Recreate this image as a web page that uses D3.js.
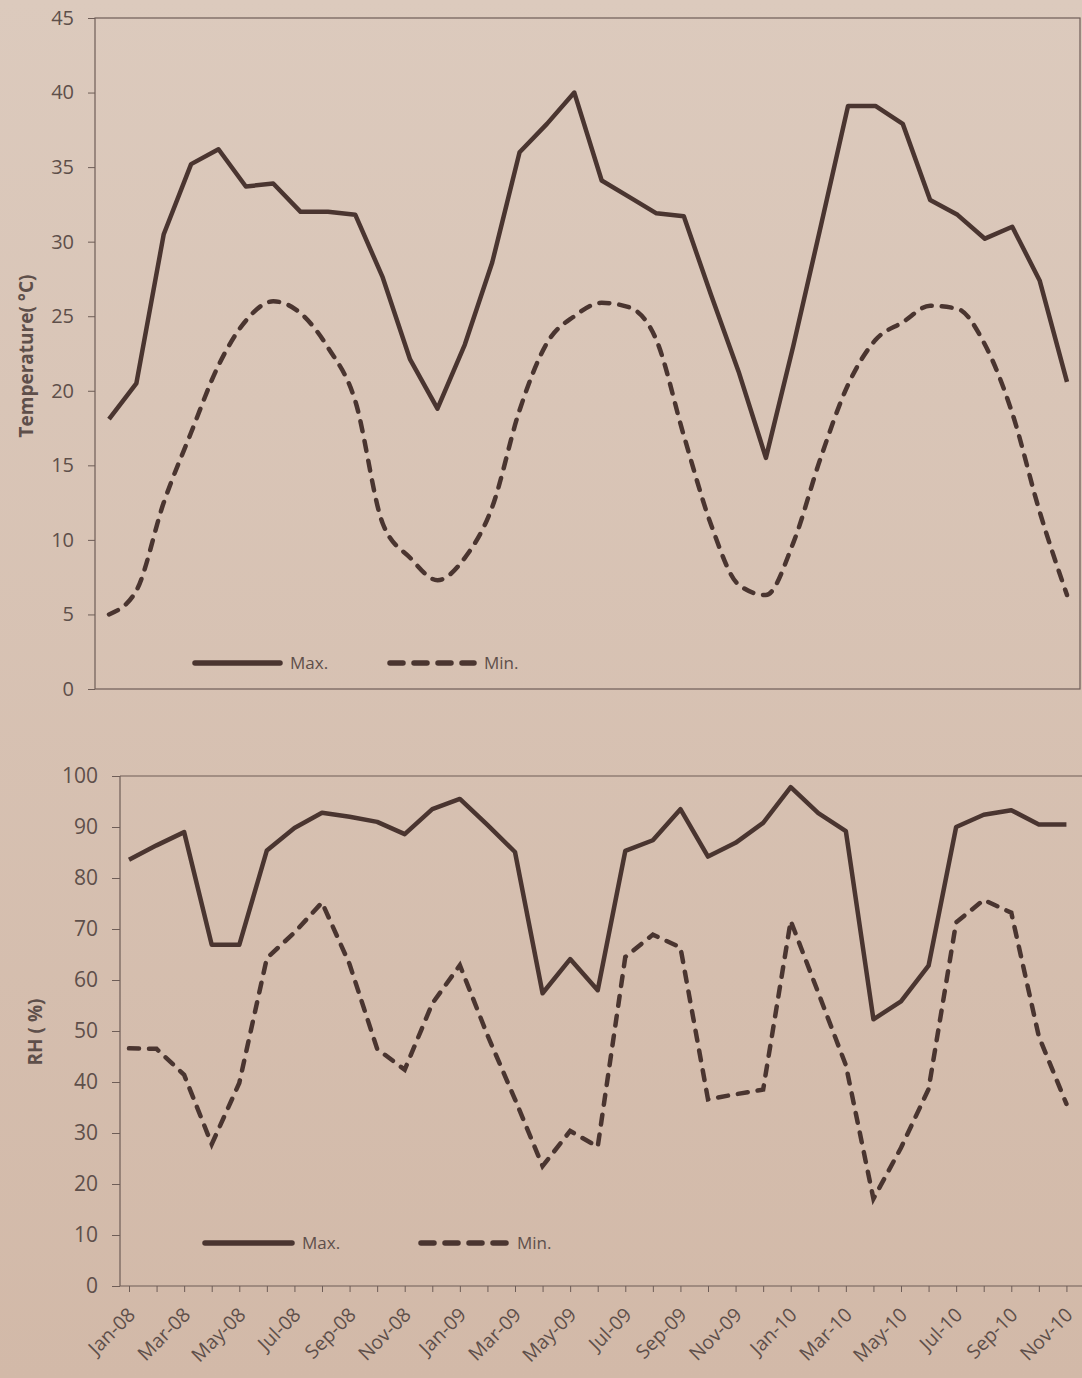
<!DOCTYPE html>
<meta charset="utf-8">
<script src="https://d3js.org/d3.v7.min.js"></script>
<style>
  body { margin: 0; background: #d8c4b5; }
  svg { display: block; font-family: 'Open Sans', sans-serif; }
</style>
<body>
<div id="my_dataviz"></div>
<script>
// months Jan-08 .. Dec-10
var months = ["Jan-08","Feb-08","Mar-08","Apr-08","May-08","Jun-08","Jul-08","Aug-08","Sep-08","Oct-08","Nov-08","Dec-08",
              "Jan-09","Feb-09","Mar-09","Apr-09","May-09","Jun-09","Jul-09","Aug-09","Sep-09","Oct-09","Nov-09","Dec-09",
              "Jan-10","Feb-10","Mar-10","Apr-10","May-10","Jun-10","Jul-10","Aug-10","Sep-10","Oct-10","Nov-10","Dec-10"];
var monthLabels = ["Jan-08","Mar-08","May-08","Jul-08","Sep-08","Nov-08","Jan-09","Mar-09","May-09","Jul-09","Sep-09","Nov-09",
                   "Jan-10","Mar-10","May-10","Jul-10","Sep-10","Nov-10"];

// temperature (°C)
var tempTicks = [0, 5, 10, 15, 20, 25, 30, 35, 40, 45];
var tempMax = [18.1, 20.5, 30.5, 35.2, 36.2, 33.7, 33.9, 32.0, 32.0, 31.8, 27.6, 22.1,
               18.8, 23.1, 28.6, 36.0, 37.9, 40.0, 34.1, 33.0, 31.9, 31.7, 26.4, 21.3,
               15.5, 23.0, 31.0, 39.1, 39.1, 37.9, 32.8, 31.8, 30.2, 31.0, 27.4, 20.6];
var tempMin = [5.0, 6.6, 12.5, 17.2, 21.7, 24.7, 26.0, 25.2, 22.9, 19.3, 11.1, 8.8,
               7.3, 8.8, 12.2, 18.7, 23.2, 25.0, 25.9, 25.6, 23.4, 17.0, 11.0, 7.0,
               6.3, 9.8, 15.5, 20.4, 23.4, 24.6, 25.7, 25.5, 23.1, 18.5, 11.9, 6.3];

// relative humidity (%), Jan-08 .. Nov-10 visible
var rhTicks = [0, 10, 20, 30, 40, 50, 60, 70, 80, 90, 100];
var rhMax = [83.6, 86.4, 89.0, 66.9, 66.9, 85.4, 89.8, 92.8, 92.0, 91.0, 88.6, 93.5,
             95.5, 90.4, 85.1, 57.4, 64.1, 58.0, 85.3, 87.4, 93.5, 84.2, 86.9, 90.8,
             97.8, 92.7, 89.2, 52.3, 55.8, 62.8, 90.0, 92.4, 93.3, 90.5, 90.5];
var rhMin = [46.6, 46.5, 41.4, 27.8, 39.8, 64.3, 69.3, 75.2, 63.1, 46.5, 42.4, 55.4,
             62.9, 49.2, 36.6, 23.5, 30.4, 27.3, 64.5, 68.9, 66.4, 36.6, 37.6, 38.5,
             71.6, 57.5, 43.3, 17.1, 27.1, 38.6, 71.3, 75.7, 73.2, 48.9, 35.7];

var W = 1082, H = 1378;
var ink = "#4a3530", textCol = "#5e4f4a", axisCol = "#6e5d57";

var svg = d3.select("#my_dataviz")
  .append("svg")
    .attr("width", W)
    .attr("height", H);

// paper background
var grad = svg.append("defs").append("linearGradient")
    .attr("id", "paper").attr("x1", 0).attr("y1", 0).attr("x2", 0).attr("y2", 1);
grad.append("stop").attr("offset", "0%").attr("stop-color", "#dccabd");
grad.append("stop").attr("offset", "100%").attr("stop-color", "#d2b9a8");
svg.append("rect").attr("width", W).attr("height", H).attr("fill", "url(#paper)");

function legend(g, x, y, dashed, label, lineLen) {
  g.append("line")
    .attr("x1", x).attr("x2", x + lineLen).attr("y1", y).attr("y2", y)
    .attr("stroke", ink).attr("stroke-width", 5.5)
    .attr("stroke-linecap", "round")
    .attr("stroke-dasharray", dashed ? "13,11" : null);
  g.append("text")
    .attr("x", x + lineLen + 10).attr("y", y)
    .attr("dy", "0.35em")
    .style("font-size", "17px")
    .style("fill", textCol)
    .text(label);
}

// ---------- Temperature panel ----------
var tempG = svg.append("g");
var xT = d3.scalePoint().domain(months).range([109, 1067]);
var yT = d3.scaleLinear().domain([0, 45]).range([689, 18]);

tempG.append("rect")
    .attr("x", 95).attr("y", 18).attr("width", 985).attr("height", 671)
    .attr("fill", "none").attr("stroke", axisCol).attr("stroke-width", 1.2);

tempG.append("g")
    .attr("transform", "translate(95,0)")
    .call(d3.axisLeft(yT).tickValues(tempTicks).tickSize(7).tickPadding(14))
    .call(function(g) { g.select(".domain").remove(); })
    .call(function(g) {
      g.selectAll("line").attr("stroke", axisCol);
      g.selectAll("text").style("font-size", "20px").style("fill", textCol)
        .style("font-family", "'Open Sans', sans-serif");
    });

tempG.append("text")
    .attr("transform", "translate(26,356) rotate(-90)")
    .attr("text-anchor", "middle")
    .attr("dy", "0.35em")
    .style("font-size", "19px").style("font-weight", "bold").style("fill", textCol)
    .text("Temperature( °C)");

var lineT = d3.line()
    .x(function(d, i) { return xT(months[i]); })
    .y(function(d) { return yT(d); });

tempG.append("path").datum(tempMax)
    .attr("d", lineT)
    .attr("fill", "none").attr("stroke", ink).attr("stroke-width", 4.5)
    .attr("stroke-linejoin", "round");
tempG.append("path").datum(tempMin)
    .attr("d", lineT.curve(d3.curveMonotoneX))
    .attr("fill", "none").attr("stroke", ink).attr("stroke-width", 4.5)
    .attr("stroke-linecap", "round").attr("stroke-dasharray", "10,10");

legend(tempG, 195, 663, false, "Max.", 85);
legend(tempG, 390, 663, true, "Min.", 84);

// ---------- RH panel ----------
var rhG = svg.append("g");
var xB = d3.scalePoint().domain(months).range([129, 1094]);
var yB = d3.scaleLinear().domain([0, 100]).range([1286, 776]);

rhG.append("line")
    .attr("x1", 120).attr("x2", W).attr("y1", 776).attr("y2", 776)
    .attr("stroke", axisCol).attr("stroke-width", 1.2);
rhG.append("line")
    .attr("x1", 120).attr("x2", 120).attr("y1", 776).attr("y2", 1286)
    .attr("stroke", axisCol).attr("stroke-width", 1.2);
rhG.append("line")
    .attr("x1", 120).attr("x2", W).attr("y1", 1286).attr("y2", 1286)
    .attr("stroke", axisCol).attr("stroke-width", 1.2);

rhG.append("g")
    .attr("transform", "translate(120,0)")
    .call(d3.axisLeft(yB).tickValues(rhTicks).tickSize(8).tickPadding(14))
    .call(function(g) { g.select(".domain").remove(); })
    .call(function(g) {
      g.selectAll("line").attr("stroke", axisCol);
      g.selectAll("text").style("font-size", "21px").style("fill", textCol)
        .style("font-family", "'Open Sans', sans-serif");
    });

rhG.append("g")
    .attr("transform", "translate(0,1286)")
    .call(d3.axisBottom(xB).tickSize(6)
      .tickFormat(function(d) { return monthLabels.indexOf(d) >= 0 ? d : ""; }))
    .call(function(g) { g.select(".domain").remove(); })
    .call(function(g) {
      g.selectAll("line").attr("stroke", axisCol);
      g.selectAll("text")
        .attr("x", 0).attr("y", 0).attr("dy", 0)
        .attr("text-anchor", "end")
        .attr("transform", "translate(7,30) rotate(-45)")
        .style("font-size", "19.5px").style("fill", textCol)
        .style("font-family", "'Open Sans', sans-serif");
    });

rhG.append("text")
    .attr("transform", "translate(35,1032) rotate(-90)")
    .attr("text-anchor", "middle")
    .attr("dy", "0.35em")
    .style("font-size", "19px").style("font-weight", "bold").style("fill", textCol)
    .text("RH ( %)");

var lineB = d3.line()
    .x(function(d, i) { return xB(months[i]); })
    .y(function(d) { return yB(d); });

rhG.append("path").datum(rhMax)
    .attr("d", lineB)
    .attr("fill", "none").attr("stroke", ink).attr("stroke-width", 4.5)
    .attr("stroke-linejoin", "round");
rhG.append("path").datum(rhMin)
    .attr("d", lineB)
    .attr("fill", "none").attr("stroke", ink).attr("stroke-width", 4.5)
    .attr("stroke-linecap", "round").attr("stroke-dasharray", "10,10");

legend(rhG, 205, 1243, false, "Max.", 87);
legend(rhG, 421, 1243, true, "Min.", 86);
</script>
</body>
